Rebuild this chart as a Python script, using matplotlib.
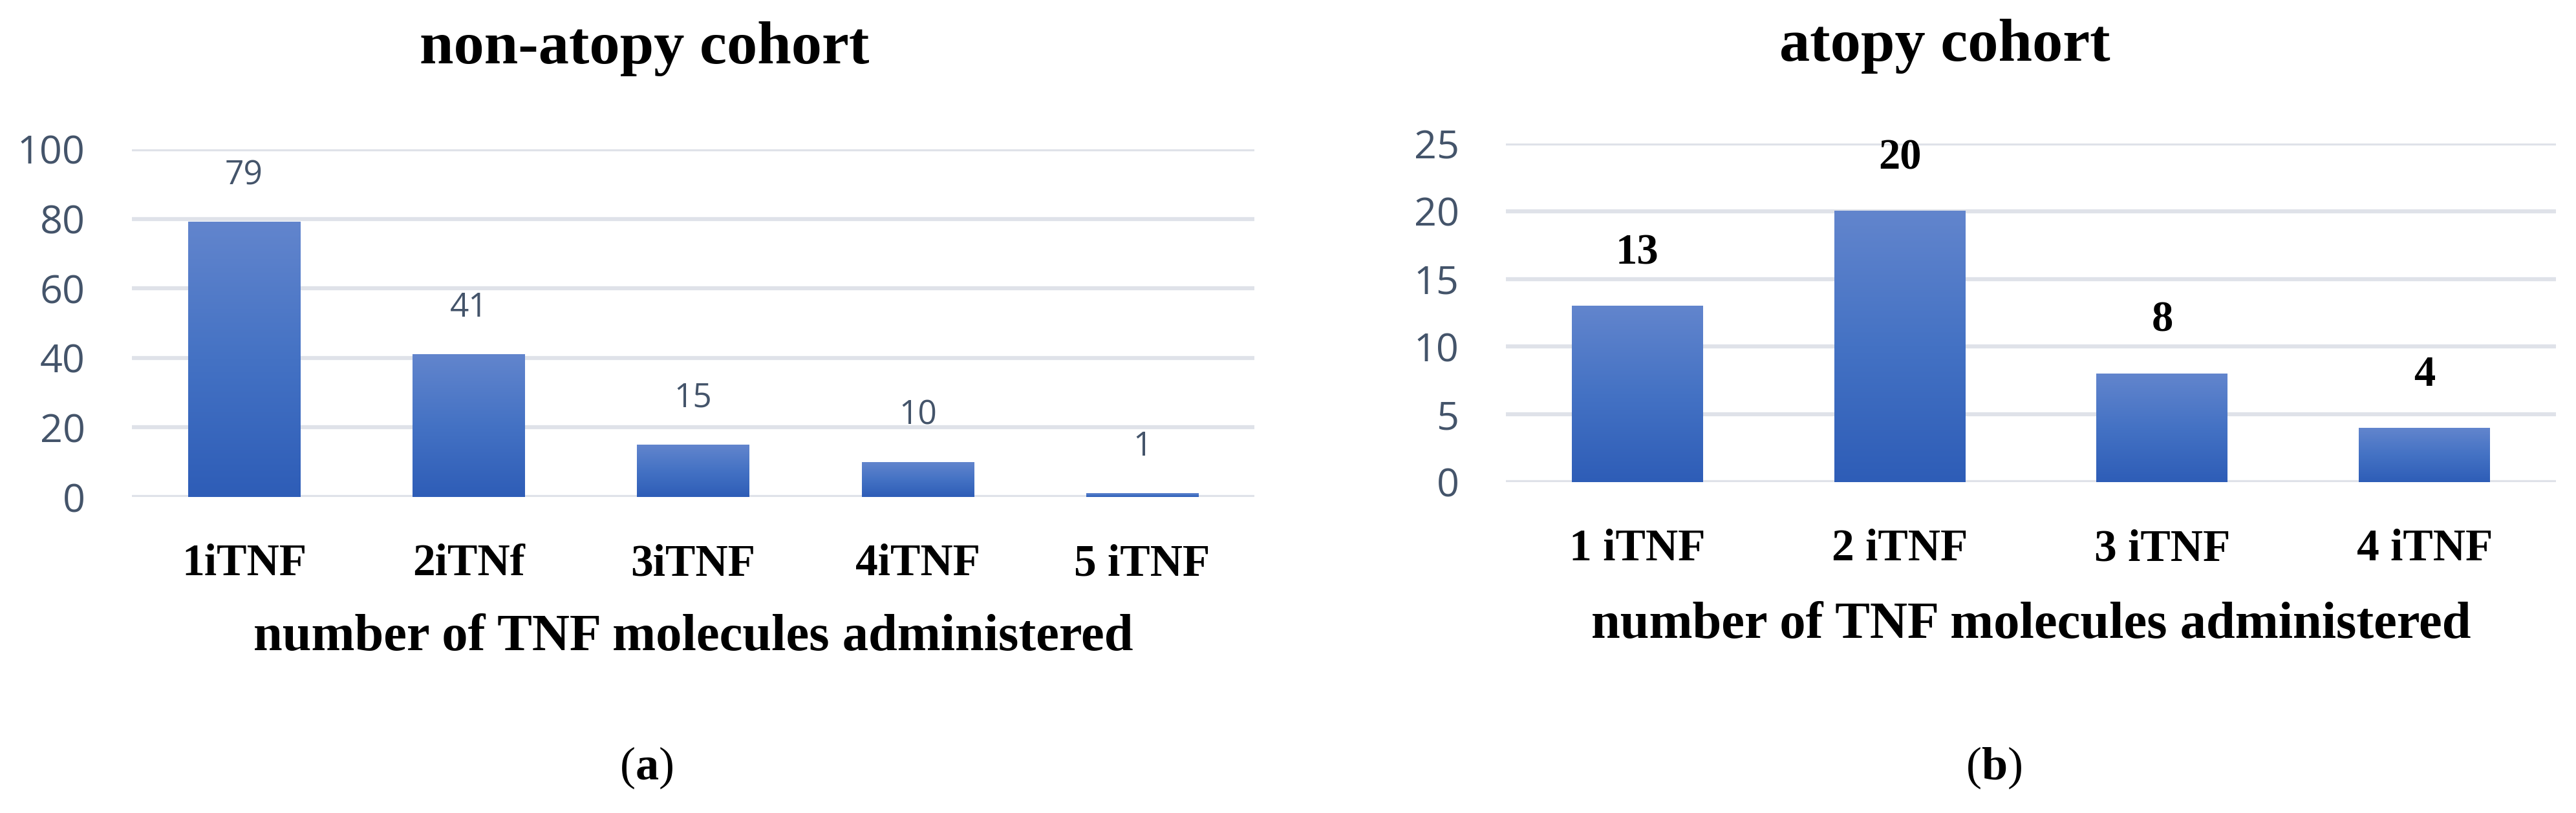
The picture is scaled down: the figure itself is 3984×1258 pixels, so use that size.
import matplotlib.pyplot as plt
import numpy as np
from matplotlib.colors import LinearSegmentedColormap

# data
left_cats = ["1iTNF", "2iTNf", "3iTNF", "4iTNF", "5 iTNF"]
left_vals = [79, 41, 15, 10, 1]
right_cats = ["1 iTNF", "2 iTNF", "3 iTNF", "4 iTNF"]
right_vals = [13, 20, 8, 4]

left_title = "non-atopy cohort"
right_title = "atopy cohort"
xlabel = "number of TNF molecules administered"

plt.rcParams['mathtext.fontset'] = 'custom'
plt.rcParams['mathtext.rm'] = 'Liberation Serif'
plt.rcParams['mathtext.bf'] = 'Liberation Serif:bold'

SERIF = 'Liberation Serif'
SANS = 'Open Sans'
GREY = '#44546A'
GRID = '#DFE2E9'

grad_cmap = LinearSegmentedColormap.from_list(
    'bar', ['#2E5DB7', '#4472C4', '#6285CD'])


def gradient_bars(ax, cats, vals):
    x = np.arange(len(cats))
    bars = ax.bar(x, vals, width=0.5, color='#4472C4', zorder=2)
    grad = np.linspace(0, 1, 256).reshape(-1, 1)
    for b in bars:
        x0 = b.get_x()
        ax.imshow(grad, cmap=grad_cmap, origin='lower', aspect='auto',
                  extent=[x0, x0 + b.get_width(), 0, b.get_height()], zorder=3)
    ax.set_xlim(-0.5, len(cats) - 0.5)
    return x


def style_axis(ax, x, cats, ymax, step, xlab_y):
    ax.set_ylim(0, ymax)
    ax.set_yticks(np.arange(0, ymax + 1, step))
    ax.set_xticks(x)
    ax.set_xticklabels(cats, fontfamily=SERIF, fontweight='bold', fontsize=50)
    for t in ax.get_yticklabels():
        t.set_fontfamily(SANS)
        t.set_fontsize(44)
        t.set_color(GREY)
    ax.tick_params(axis='both', length=0)
    ax.tick_params(axis='y', pad=52)
    ax.tick_params(axis='x', pad=52)
    ax.grid(axis='y', color=GRID, linewidth=4.5, zorder=0)
    ax.set_axisbelow(True)
    for s in ax.spines.values():
        s.set_visible(False)
    ax.set_xlabel(xlabel, fontfamily=SERIF, fontweight='bold', fontsize=58,
                  va='center')
    ax.xaxis.set_label_coords(0.5, xlab_y)


fig = plt.figure(figsize=(39.84, 12.58), dpi=100)

# left panel
ax1 = fig.add_axes([0.0512, 0.3887, 0.4358, 0.4277])
x1 = gradient_bars(ax1, left_cats, left_vals)
style_axis(ax1, x1, left_cats, 100, 20, -0.405)
for xi, v in zip(x1, left_vals):
    ax1.annotate(str(v), (xi, v), xytext=(0, 52), textcoords='offset points',
                 ha='center', va='center', fontfamily=SANS, fontsize=37,
                 color=GREY)

# right panel
ax2 = fig.add_axes([0.5846, 0.407, 0.4076, 0.4165])
x2 = gradient_bars(ax2, right_cats, right_vals)
style_axis(ax2, x2, right_cats, 25, 5, -0.422)
for xi, v in zip(x2, right_vals):
    ax2.annotate(str(v), (xi, v), xytext=(0, 59), textcoords='offset points',
                 ha='center', va='center', fontfamily=SERIF, fontweight='bold',
                 fontsize=48, color='black')

fig.text(0.2502, 0.9396, left_title, ha='center', va='center',
         fontfamily=SERIF, fontweight='bold', fontsize=68)
fig.text(0.755, 0.943, right_title, ha='center', va='center',
         fontfamily=SERIF, fontweight='bold', fontsize=68)

fig.text(0.251, 0.0556, r"(${\bf a}$)", ha='center', va='center',
         fontfamily=SERIF, fontsize=52)
fig.text(0.774, 0.0556, r"(${\bf b}$)", ha='center', va='center',
         fontfamily=SERIF, fontsize=52)

fig.savefig("out.png", dpi=100, facecolor='white')
